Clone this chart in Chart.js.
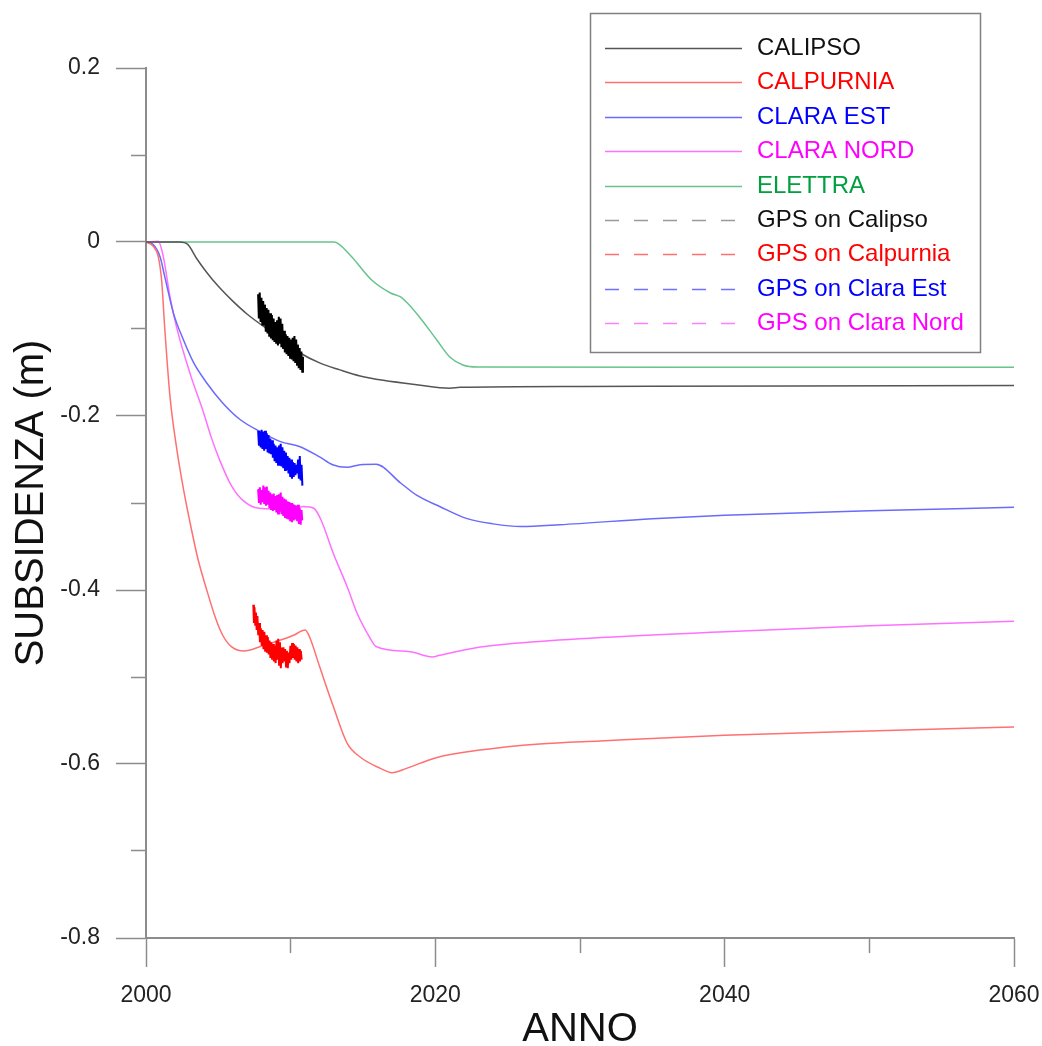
<!DOCTYPE html>
<html>
<head>
<meta charset="utf-8">
<script src="https://cdn.jsdelivr.net/npm/chart.js@4/dist/chart.umd.min.js"></script>
<style>
  html, body { margin: 0; padding: 0; background: #fff; }
  canvas { display: block; }
</style>
</head>
<body>
<canvas id="subsChart" width="1042" height="1046"></canvas>
<script>
const FONT = '"Liberation Sans", Arial, Helvetica, sans-serif';

// simulated subsidence per field (years, metres)
const calipsoYears = [2000, 2002.3, 2002.9, 2003.5, 2004.2, 2005.0, 2006.0, 2007.0, 2008.8, 2010.6, 2012.0, 2013.4, 2014.8, 2016.4, 2018.7, 2021.0, 2021.7, 2030, 2045, 2060];
const calipsoVals  = [0, 0, -0.003, -0.019, -0.035, -0.051, -0.068, -0.083, -0.105, -0.127, -0.139, -0.147, -0.154, -0.159, -0.164, -0.168, -0.167, -0.166, -0.1655, -0.165];

const calpurniaYears = [2000, 2000.5, 2000.85, 2001.08, 2001.3, 2001.66, 2002.1, 2002.6, 2003.1, 2003.6, 2004.2, 2004.8, 2005.3, 2005.9, 2006.8, 2007.9, 2009.3, 2010.2, 2011.0, 2011.3, 2012.0, 2012.95, 2013.9, 2014.8, 2016.2, 2017.0, 2018.0, 2020.0, 2023.1, 2027.2, 2031.4, 2040, 2050, 2060];
const calpurniaVals  = [0, -0.005, -0.017, -0.044, -0.100, -0.178, -0.235, -0.285, -0.327, -0.365, -0.400, -0.432, -0.452, -0.465, -0.470, -0.465, -0.4575, -0.452, -0.446, -0.4537, -0.488, -0.534, -0.576, -0.592, -0.605, -0.610, -0.605, -0.593, -0.584, -0.577, -0.5735, -0.567, -0.562, -0.5575];

const claraEstYears = [2000, 2000.5, 2000.97, 2001.3, 2001.9, 2002.6, 2003.3, 2004.2, 2005.3, 2006.5, 2007.9, 2009.3, 2010.6, 2012.0, 2012.9, 2013.9, 2014.8, 2015.9, 2017.6, 2018.7, 2020.3, 2022.2, 2024.0, 2025.9, 2028.6, 2035, 2040, 2050, 2060];
const claraEstVals  = [0, -0.003, -0.017, -0.040, -0.082, -0.113, -0.139, -0.162, -0.185, -0.204, -0.218, -0.2295, -0.235, -0.247, -0.256, -0.259, -0.256, -0.2555, -0.277, -0.291, -0.304, -0.318, -0.324, -0.327, -0.325, -0.318, -0.314, -0.309, -0.305];

const claraNordYears = [2000, 2000.85, 2001.2, 2001.66, 2002.1, 2003.04, 2003.96, 2004.5, 2005.1, 2005.9, 2006.7, 2007.8, 2010.2, 2010.9, 2011.6, 2012.1, 2012.95, 2013.9, 2014.6, 2015.5, 2015.9, 2018.25, 2019.8, 2020.3, 2023.1, 2025, 2030, 2040, 2050, 2060];
const claraNordVals  = [0, 0.001, -0.017, -0.063, -0.097, -0.151, -0.195, -0.224, -0.251, -0.280, -0.297, -0.306, -0.307, -0.304, -0.306, -0.3195, -0.358, -0.396, -0.427, -0.4555, -0.465, -0.471, -0.477, -0.475, -0.4655, -0.462, -0.456, -0.448, -0.441, -0.436];

const elettraYears = [2000, 2013.0, 2014.1, 2015.6, 2016.9, 2017.6, 2018.0, 2018.9, 2020.1, 2021.0, 2021.9, 2022.9, 2040, 2060];
const elettraVals  = [0, 0, -0.0149, -0.0437, -0.0586, -0.0632, -0.069, -0.0862, -0.1126, -0.1322, -0.1414, -0.1437, -0.144, -0.144];

// GPS records
const gpsCalipsoYears = [2007.75, 2007.80, 2007.86, 2007.92, 2007.98, 2008.04, 2008.10, 2008.16, 2008.22, 2008.28, 2008.34, 2008.40, 2008.46, 2008.52, 2008.58, 2008.64, 2008.70, 2008.76, 2008.82, 2008.88, 2008.94, 2009.00, 2009.06, 2009.12, 2009.18, 2009.24, 2009.30, 2009.36, 2009.42, 2009.48, 2009.54, 2009.60, 2009.66, 2009.72, 2009.78, 2009.84, 2009.90, 2009.96, 2010.02, 2010.08, 2010.14, 2010.20, 2010.26, 2010.32, 2010.38, 2010.44, 2010.50, 2010.56, 2010.62, 2010.68, 2010.74, 2010.80, 2010.85];
const gpsCalipsoVals  = [-0.060, -0.088, -0.058, -0.092, -0.064, -0.096, -0.068, -0.095, -0.072, -0.103, -0.076, -0.105, -0.078, -0.109, -0.082, -0.111, -0.084, -0.113, -0.088, -0.115, -0.092, -0.117, -0.090, -0.119, -0.086, -0.117, -0.088, -0.121, -0.094, -0.123, -0.102, -0.127, -0.106, -0.129, -0.108, -0.131, -0.110, -0.133, -0.112, -0.135, -0.110, -0.137, -0.108, -0.139, -0.112, -0.141, -0.118, -0.145, -0.122, -0.147, -0.126, -0.149, -0.132];

const gpsCalpurniaYears = [2007.42, 2007.46, 2007.50, 2007.55, 2007.60, 2007.65, 2007.70, 2007.76, 2007.82, 2007.88, 2007.94, 2008.00, 2008.06, 2008.12, 2008.18, 2008.24, 2008.30, 2008.36, 2008.42, 2008.48, 2008.54, 2008.60, 2008.66, 2008.72, 2008.78, 2008.84, 2008.90, 2008.96, 2009.02, 2009.08, 2009.14, 2009.20, 2009.26, 2009.32, 2009.38, 2009.44, 2009.50, 2009.56, 2009.62, 2009.68, 2009.74, 2009.80, 2009.86, 2009.92, 2009.98, 2010.04, 2010.10, 2010.16, 2010.22, 2010.28, 2010.34, 2010.40, 2010.46, 2010.52, 2010.58, 2010.64, 2010.70, 2010.76];
const gpsCalpurniaVals  = [-0.417, -0.438, -0.420, -0.440, -0.426, -0.446, -0.430, -0.452, -0.438, -0.460, -0.444, -0.464, -0.446, -0.468, -0.448, -0.471, -0.452, -0.472, -0.454, -0.474, -0.458, -0.478, -0.460, -0.480, -0.462, -0.482, -0.464, -0.484, -0.458, -0.480, -0.456, -0.486, -0.460, -0.490, -0.466, -0.484, -0.466, -0.482, -0.468, -0.488, -0.470, -0.490, -0.472, -0.484, -0.464, -0.480, -0.461, -0.478, -0.462, -0.480, -0.464, -0.482, -0.466, -0.484, -0.468, -0.482, -0.470, -0.480];

const gpsClaraEstYears = [2007.75, 2007.81, 2007.87, 2007.93, 2007.99, 2008.05, 2008.11, 2008.17, 2008.23, 2008.29, 2008.35, 2008.41, 2008.47, 2008.53, 2008.59, 2008.65, 2008.71, 2008.77, 2008.83, 2008.89, 2008.95, 2009.01, 2009.07, 2009.13, 2009.19, 2009.25, 2009.31, 2009.37, 2009.43, 2009.49, 2009.55, 2009.61, 2009.67, 2009.73, 2009.79, 2009.85, 2009.91, 2009.97, 2010.03, 2010.09, 2010.15, 2010.21, 2010.27, 2010.33, 2010.39, 2010.45, 2010.51, 2010.57, 2010.63, 2010.69, 2010.75, 2010.81];
const gpsClaraEstVals  = [-0.217, -0.234, -0.218, -0.236, -0.216, -0.238, -0.218, -0.240, -0.217, -0.238, -0.220, -0.242, -0.222, -0.243, -0.226, -0.244, -0.228, -0.248, -0.232, -0.252, -0.234, -0.254, -0.236, -0.256, -0.234, -0.257, -0.232, -0.258, -0.236, -0.260, -0.240, -0.262, -0.242, -0.262, -0.246, -0.266, -0.248, -0.270, -0.250, -0.272, -0.253, -0.270, -0.254, -0.268, -0.256, -0.266, -0.250, -0.272, -0.246, -0.274, -0.256, -0.280];

const gpsClaraNordYears = [2007.75, 2007.81, 2007.87, 2007.93, 2007.99, 2008.05, 2008.11, 2008.17, 2008.23, 2008.29, 2008.35, 2008.41, 2008.47, 2008.53, 2008.59, 2008.65, 2008.71, 2008.77, 2008.83, 2008.89, 2008.95, 2009.01, 2009.07, 2009.13, 2009.19, 2009.25, 2009.31, 2009.37, 2009.43, 2009.49, 2009.55, 2009.61, 2009.67, 2009.73, 2009.79, 2009.85, 2009.91, 2009.97, 2010.03, 2010.09, 2010.15, 2010.21, 2010.27, 2010.33, 2010.39, 2010.45, 2010.51, 2010.57, 2010.63, 2010.69, 2010.75, 2010.80];
const gpsClaraNordVals  = [-0.284, -0.300, -0.282, -0.302, -0.285, -0.299, -0.280, -0.301, -0.282, -0.303, -0.281, -0.302, -0.286, -0.306, -0.288, -0.308, -0.290, -0.309, -0.289, -0.308, -0.292, -0.311, -0.291, -0.312, -0.290, -0.310, -0.288, -0.313, -0.293, -0.315, -0.295, -0.316, -0.296, -0.318, -0.298, -0.319, -0.299, -0.321, -0.300, -0.322, -0.301, -0.320, -0.302, -0.319, -0.303, -0.321, -0.302, -0.324, -0.306, -0.325, -0.308, -0.320];

const pts = (xs, ys) => xs.map((x, i) => ({ x: x, y: ys[i] }));

function model(label, xs, ys, color, textColor) {
  return {
    label: label, data: pts(xs, ys),
    borderColor: color, borderWidth: 1.5,
    cubicInterpolationMode: 'monotone',
    pointRadius: 0, order: 2,
    legendColor: color, legendDash: [], textColor: textColor
  };
}
function gps(label, xs, ys, color, legendColor) {
  return {
    label: label, data: pts(xs, ys),
    borderColor: color, borderWidth: 2,
    tension: 0, pointRadius: 0, order: 1,
    legendColor: legendColor, legendDash: [14, 15], textColor: color === '#000000' ? '#111' : color
  };
}

// legend inside a framed box, top right
const boxLegend = {
  id: 'boxLegend',
  afterDatasetsDraw(chart) {
    const c = chart.ctx;
    c.save();
    c.fillStyle = '#fff';
    c.fillRect(590, 13, 390, 339);
    c.strokeStyle = '#808080';
    c.lineWidth = 1.5;
    c.strokeRect(590.5, 13.5, 390, 339);
    c.font = '24px ' + FONT;
    c.textBaseline = 'middle';
    c.textAlign = 'left';
    chart.data.datasets.forEach((ds, i) => {
      const y = Math.round(48 + i * 34.4) + 0.5;
      c.beginPath();
      c.setLineDash(ds.legendDash);
      c.strokeStyle = ds.legendColor;
      c.lineWidth = 1.5;
      c.moveTo(605, y);
      c.lineTo(ds.legendDash.length ? 735 : 742, y);
      c.stroke();
      c.setLineDash([]);
      c.fillStyle = ds.textColor;
      c.fillText(ds.label, 757, y);
    });
    c.restore();
  }
};

const AXIS = '#8c8c8c';

new Chart(document.getElementById('subsChart'), {
  type: 'line',
  data: {
    datasets: [
      model('CALIPSO', calipsoYears, calipsoVals, '#555555', '#111'),
      model('CALPURNIA', calpurniaYears, calpurniaVals, '#ff7070', '#ff0000'),
      model('CLARA EST', claraEstYears, claraEstVals, '#6a6aff', '#0000ff'),
      model('CLARA NORD', claraNordYears, claraNordVals, '#ff70ff', '#ff00ff'),
      model('ELETTRA', elettraYears, elettraVals, '#66c48c', '#00a040'),
      gps('GPS on Calipso', gpsCalipsoYears, gpsCalipsoVals, '#000000', '#9a9a9a'),
      gps('GPS on Calpurnia', gpsCalpurniaYears, gpsCalpurniaVals, '#ff0000', '#ff7070'),
      gps('GPS on Clara Est', gpsClaraEstYears, gpsClaraEstVals, '#0000ff', '#7070ff'),
      gps('GPS on Clara Nord', gpsClaraNordYears, gpsClaraNordVals, '#ff00ff', '#ff80ff')
    ]
  },
  options: {
    responsive: false,
    devicePixelRatio: 1,
    animation: false,
    events: [],
    layout: { padding: { top: 68, right: 28, bottom: 0, left: 0 } },
    plugins: { legend: { display: false }, tooltip: { enabled: false } },
    scales: {
      x: {
        type: 'linear', min: 2000, max: 2060,
        afterFit: s => { s.height = 108; s.paddingLeft = 0; s.paddingRight = 0; },
        ticks: {
          stepSize: 10, autoSkip: false, maxRotation: 0, padding: 15,
          color: '#222', font: { family: FONT, size: 23 },
          callback: v => (v % 20 === 0 ? String(v) : '')
        },
        grid: {
          drawOnChartArea: false, tickLength: 29, tickColor: AXIS, tickWidth: 1.5,
          tickBorderDash: ctx => (ctx.tick && ctx.tick.value % 20 !== 0 ? [14, 100] : [])
        },
        border: { color: AXIS, width: 2 },
        title: {
          display: true, text: 'ANNO', color: '#111',
          font: { family: FONT, size: 40, lineHeight: 0.8 },
          padding: { top: 0, bottom: 0 }
        }
      },
      y: {
        min: -0.8, max: 0.2,
        afterFit: s => { s.width = 146; },
        ticks: {
          stepSize: 0.1, autoSkip: false, padding: 16,
          color: '#222', font: { family: FONT, size: 23 },
          callback: v => { const k = Math.round(v * 10); return k % 2 === 0 ? String(k / 10) : ''; }
        },
        grid: {
          drawOnChartArea: false, tickLength: 30, tickColor: AXIS, tickWidth: 1.5,
          tickBorderDash: ctx => (ctx.tick && Math.round(ctx.tick.value * 10) % 2 !== 0 ? [0, 15, 15, 100] : [])
        },
        border: { color: AXIS, width: 2 },
        title: {
          display: true, text: 'SUBSIDENZA (m)', color: '#111',
          font: { family: FONT, size: 40, lineHeight: 1.2 },
          padding: { top: 8, bottom: 0 }
        }
      }
    }
  },
  plugins: [boxLegend]
});
</script>
</body>
</html>
